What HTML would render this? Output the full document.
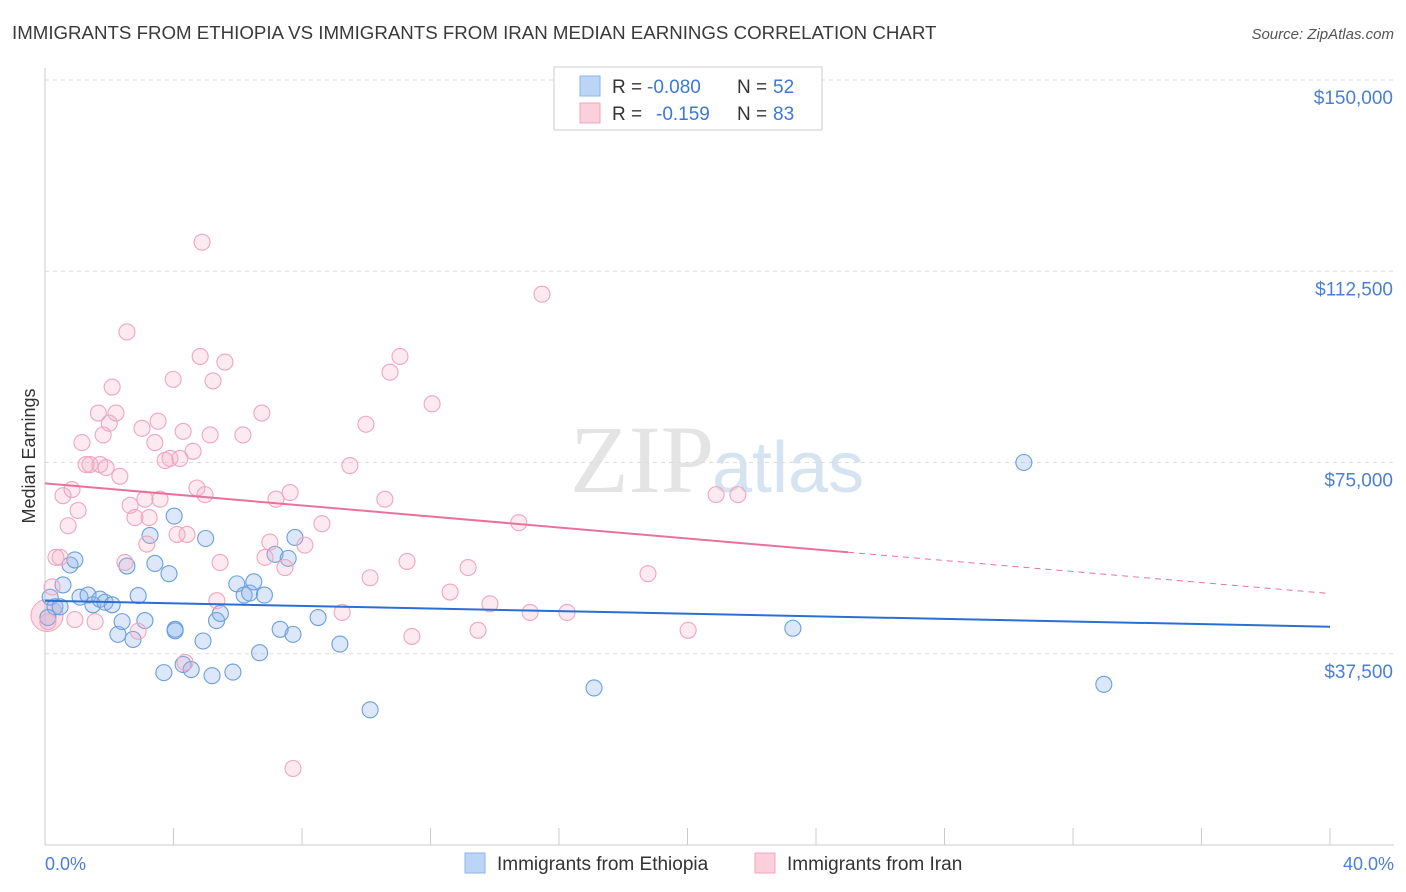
<!DOCTYPE html>
<html><head><meta charset="utf-8"><style>
body{margin:0;background:#fff;font-family:"Liberation Sans",sans-serif;}
svg{display:block}
</style></head><body>
<svg width="1406" height="892">
<text x="12" y="39" font-size="18.7" fill="#3a3a3a">IMMIGRANTS FROM ETHIOPIA VS IMMIGRANTS FROM IRAN MEDIAN EARNINGS CORRELATION CHART</text>
<text x="1394" y="39" font-size="15" fill="#555" font-style="italic" text-anchor="end">Source: ZipAtlas.com</text>
<text x="714" y="492" font-size="96" fill="#e4e4e4" text-anchor="end" font-family="Liberation Serif,serif">ZIP</text>
<text x="712" y="492" font-size="72" fill="#d6e4f2">atlas</text>
<g id="grid"></g>
<g id="axes"></g>
<g id="pts"></g>
<g id="lines"></g>
<text x="35" y="456" font-size="18" fill="#333" text-anchor="middle" transform="rotate(-90 35 456)">Median Earnings</text>
<text x="45" y="870" font-size="18" fill="#4a7fd4">0.0%</text>
<text x="1394" y="870" font-size="18" fill="#4a7fd4" text-anchor="end">40.0%</text>
<g>
<rect x="554" y="67" width="268" height="63" fill="#fff" stroke="#ccc"/>
<rect x="580" y="76" width="20" height="20" fill="#bcd4f5" stroke="#8fb3e6"/>
<rect x="580" y="103" width="20" height="20" fill="#fbcfdc" stroke="#f0a5bd"/>
<text x="612" y="93" font-size="19" fill="#333">R = </text><text x="647" y="93" font-size="19" fill="#3b78d8">-0.080</text>
<text x="737" y="93" font-size="19" fill="#333">N = </text><text x="773" y="93" font-size="19" fill="#3b78d8">52</text>
<text x="612" y="120" font-size="19" fill="#333">R = </text><text x="656" y="120" font-size="19" fill="#3b78d8">-0.159</text>
<text x="737" y="120" font-size="19" fill="#333">N = </text><text x="773" y="120" font-size="19" fill="#3b78d8">83</text>
</g>
<g>
<rect x="465" y="853" width="20" height="20" fill="#bcd4f5" stroke="#8fb3e6"/>
<text x="497" y="870" font-size="19" fill="#333">Immigrants from Ethiopia</text>
<rect x="755" y="853" width="20" height="20" fill="#fbcfdc" stroke="#f0a5bd"/>
<text x="787" y="870" font-size="19" fill="#333">Immigrants from Iran</text>
</g>
</svg>
<script>
const yTicks=[37500,75000,112500,150000];
const yTickLabels=["$37,500","$75,000","$112,500","$150,000"];
const ethX=[0.16,0.31,0.56,0.78,0.93,1.09,1.34,1.49,1.71,1.87,2.09,2.27,2.40,2.55,2.74,2.90,3.11,3.27,3.42,3.70,3.86,4.02,4.05,4.05,4.30,4.55,4.92,5.00,5.20,5.34,5.46,5.85,5.97,6.20,6.37,6.50,6.68,6.83,7.16,7.32,7.57,7.72,7.78,8.50,9.18,10.12,17.09,23.28,30.47,32.96,0.09,0.47];
const ethY=[48600,46700,51000,54900,55900,48600,49000,47100,48200,47600,47100,41300,43800,54700,40300,48900,44000,60700,55200,33800,53200,64500,42300,42000,35400,34400,40000,60100,33200,44000,45400,33900,51200,49000,49400,51600,37700,49000,57000,42300,56200,41300,60300,44600,39400,26500,30800,42500,75000,31500,44600,46700];
const iranX=[0.09,0.22,0.34,0.47,0.56,0.72,0.84,0.93,1.03,1.15,1.28,1.40,1.56,1.66,1.71,1.81,1.90,2.00,2.09,2.21,2.33,2.49,2.55,2.65,2.80,2.90,3.02,3.11,3.17,3.24,3.42,3.52,3.58,3.74,3.89,3.99,4.11,4.20,4.30,4.36,4.42,4.61,4.73,4.83,4.89,4.98,5.14,5.23,5.35,5.45,5.60,6.16,6.75,6.85,7.00,7.19,7.47,7.63,7.72,8.09,8.62,9.25,9.49,9.99,10.12,10.74,10.58,11.05,11.27,11.42,12.05,12.61,13.17,13.48,13.85,14.75,15.10,15.47,16.25,18.77,20.02,20.89,21.57];
const iranY=[43800,50600,56400,56400,68500,62600,69700,44200,65600,78900,74600,74600,43800,84700,74600,80400,74000,82700,89800,84700,72300,55400,100600,66600,64200,41900,81700,67800,59000,64200,78900,83100,67800,75400,75800,91300,60900,75800,81100,35800,60900,77200,70000,95800,118200,68700,80400,91000,47900,55400,94700,80400,84700,56400,59400,67800,54400,69100,15000,58800,63000,45600,74400,82500,52400,92700,67800,95800,55600,40900,86500,49600,54400,42100,47300,63200,45600,108000,45600,53200,42100,68700,68700];
const X0=45,X1=1330,Y0=845,Y150=80;
const sx=p=>X0+p/40*(X1-X0);
const sy=v=>Y0-v/150000*(Y0-Y150);
const NS="http://www.w3.org/2000/svg";
function mk(t,a,parent){const e=document.createElementNS(NS,t);for(const k in a)e.setAttribute(k,a[k]);parent.appendChild(e);return e;}
const grid=document.getElementById('grid'),axes=document.getElementById('axes'),pts=document.getElementById('pts'),lines=document.getElementById('lines');
yTicks.forEach((v,i)=>{
 const g=mk('line',{x1:X0,x2:1394,y1:sy(v),y2:sy(v),stroke:'#ddd','stroke-dasharray':'4,4'},grid);
 
 
 const t=mk('text',{x:1393,y:sy(v)+24,'font-size':19,fill:'#4a7fd4','text-anchor':'end'},grid);
 t.textContent=yTickLabels[i];
 
 
});
const la=mk('line',{x1:X0,x2:X0,y1:68,y2:Y0,stroke:'#ccc'},axes);


const ba=mk('line',{x1:X0,x2:1394,y1:Y0,y2:Y0,stroke:'#ccc'},axes);


for(let i=0;i<=10;i++){
 const tk=mk('line',{x1:sx(i*4),x2:sx(i*4),y1:828,y2:Y0,stroke:'#ccc'},axes);
 
 
}
mk('circle',{cx:X0+2,cy:sy(45000),r:16,fill:'rgba(245,160,190,0.35)',stroke:'#f0a0bb'},pts);
ethX.forEach((x,i)=>{
 const c=mk('circle',{cx:sx(x),cy:sy(ethY[i]),r:8,fill:'rgba(140,180,235,0.3)',stroke:'#6a9ee0','stroke-width':1.1},pts);
 
 
});
iranX.forEach((x,i)=>{
 const c=mk('circle',{cx:sx(x),cy:sy(iranY[i]),r:8,fill:'rgba(245,170,195,0.25)',stroke:'#f0a5bd','stroke-width':1.1},pts);
 
 
});
const fe=[47900,-(47900-42800)/40];
const fi=[70900,-(70900-49300)/40];
const l1=mk('line',{x1:sx(0),y1:sy(fe[0]),x2:sx(40),y2:sy(fe[0]+fe[1]*40),stroke:'#2a6fd6','stroke-width':2},lines);


const l2=mk('line',{x1:sx(0),y1:sy(fi[0]),x2:sx(25),y2:sy(fi[0]+fi[1]*25),stroke:'#e8739a','stroke-width':2},lines);


const l3=mk('line',{x1:sx(25),y1:sy(fi[0]+fi[1]*25),x2:sx(40),y2:sy(fi[0]+fi[1]*40),stroke:'#e8739a','stroke-width':1,'stroke-dasharray':'6,5'},lines);


</script>
</body></html>
